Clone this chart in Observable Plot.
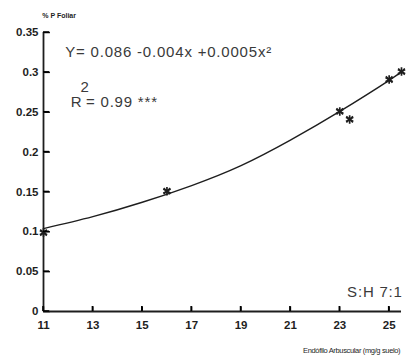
<!DOCTYPE html>
<html>
<head>
<meta charset="utf-8">
<script src="https://cdn.jsdelivr.net/npm/d3@7"></script>
<script src="https://cdn.jsdelivr.net/npm/@observablehq/plot@0.6"></script>
<style>
  html, body { margin: 0; padding: 0; background: #fff; }
  #chart svg { display: block; }
</style>
</head>
<body>
<div id="chart"></div>
<script>
const xTicks = [11, 13, 15, 17, 19, 21, 23, 25];
const yTicks = [0, 0.05, 0.1, 0.15, 0.2, 0.25, 0.3, 0.35];
const yTickLabels = ["0", "0.05", "0.1", "0.15", "0.2", "0.25", "0.3", "0.35"];

const obsX = [11, 16, 23, 23.4, 25, 25.5];
const obsY = [0.099, 0.151, 0.251, 0.241, 0.291, 0.301];

const fitX = [11, 13, 15, 17, 19, 21, 23, 25, 25.5];
const fitY = [0.104, 0.119, 0.137, 0.158, 0.183, 0.215, 0.251, 0.290, 0.301];

const equation = "Y= 0.086 -0.004x +0.0005x\u00B2";
const r2Main = "= 0.99 ***";
const yTitle = "% P Foliar";
const xTitle = "Endófilo Arbuscular (mg/g suelo)";
const ratioLabel = "S:H 7:1";

const obs = obsX.map((x, i) => ({x, y: obsY[i]}));
const fit = fitX.map((x, i) => ({x, y: fitY[i]}));
const yTickRows = yTicks.map(v => ({a: 11, b: 11.26, v}));
const xTickRows = xTicks.map(v => ({a: 0, b: 0.0065, v}));

const ink = "#1e1e1e";
const font = "Liberation Sans, Arial, sans-serif";

const chart = Plot.plot({
  width: 407,
  height: 357,
  marginLeft: 43,
  marginRight: 6,
  marginTop: 32,
  marginBottom: 46,
  style: {fontFamily: font, background: "#fff", color: ink, overflow: "visible"},
  x: {domain: [11, 25.5]},
  y: {domain: [0, 0.35]},
  marks: [
    Plot.axisY({ticks: yTicks, tickSize: 0, tickPadding: 5, tickFormat: (d, i) => yTickLabels[i],
      fontSize: 11.5, fontWeight: "bold", fill: ink, label: null}),
    Plot.axisX({ticks: xTicks, tickSize: 0, tickPadding: 9, fontSize: 11.5, fontWeight: "bold", fill: ink, label: null}),
    Plot.link(yTickRows, {x1: "a", x2: "b", y1: "v", y2: "v", stroke: "black", strokeWidth: 1.5}),
    Plot.link(xTickRows, {x1: "v", x2: "v", y1: "a", y2: "b", stroke: "black", strokeWidth: 1.5}),
    Plot.ruleX([11], {stroke: ink, strokeWidth: 1.8}),
    Plot.ruleY([0], {stroke: ink, strokeWidth: 1.8}),
    Plot.line(fit, {x: "x", y: "y", curve: "natural", stroke: ink, strokeWidth: 1.4}),
    Plot.dot(obs, {x: "x", y: "y", symbol: "asterisk", r: 4, stroke: ink, strokeWidth: 1.7}),
    Plot.dot(obs, {x: "x", y: "y", symbol: "times", r: 3, stroke: ink, strokeWidth: 1.4}),
    Plot.text([equation], {x: 11.88, y: 0.325, text: d => d, textAnchor: "start", fontSize: 15, fill: "#3a3a3a"}),
    Plot.text(["R"], {x: 12.1, y: 0.263, text: d => d, textAnchor: "start", fontSize: 15, fill: "#3a3a3a"}),
    Plot.text(["2"], {x: 12.5, y: 0.282, text: d => d, textAnchor: "start", fontSize: 15, fill: "#3a3a3a"}),
    Plot.text([r2Main], {x: 12.72, y: 0.263, text: d => d, textAnchor: "start", fontSize: 15, fill: "#3a3a3a"}),
    Plot.text([ratioLabel], {x: 25.55, y: 0.024, text: d => d, textAnchor: "end", fontSize: 15, fill: "#3a3a3a"}),
    Plot.text([yTitle], {x: 10.95, y: 0.371, text: d => d, textAnchor: "start", fontSize: 7, fontWeight: "bold", fill: ink}),
    Plot.text([xTitle], {x: 25.45, y: -0.049, text: d => d, textAnchor: "end", fontSize: 7.5, fill: ink})
  ]
});

// Inward tick marks drawn with the chart's own scales (backup in case link paths are not shown)
const sx = chart.scale("x"), sy = chart.scale("y");
const g = d3.select(chart).append("g").attr("stroke", "black").attr("stroke-width", 1.5);
yTicks.forEach(v => {
  const py = sy.apply(v), px = sx.apply(11);
  g.append("line").attr("x1", px).attr("x2", px + 6).attr("y1", py).attr("y2", py);
});
xTicks.forEach(v => {
  const px = sx.apply(v), py = sy.apply(0);
  g.append("line").attr("x1", px).attr("x2", px).attr("y1", py).attr("y2", py - 5);
});

const spacing = {[equation]: "0.8px", [r2Main]: "0.8px", [ratioLabel]: "0.8px", [xTitle]: "-0.35px"};
d3.select(chart).selectAll("text").each(function() {
  const t = this.textContent;
  if (spacing[t]) this.setAttribute("letter-spacing", spacing[t]);
});
document.getElementById("chart").appendChild(chart);
</script>
</body>
</html>
